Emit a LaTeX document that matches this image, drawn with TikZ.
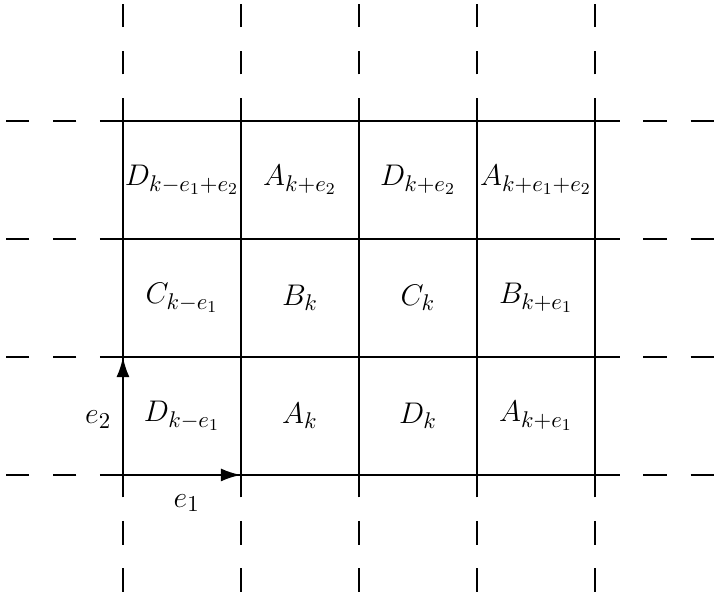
\documentclass[tikz,border=0pt]{standalone}
\usepackage{amsmath,amssymb}
\usetikzlibrary{arrows.meta}
\tikzset{
  gline/.style={line width=0.6pt},
  gdash/.style={line width=0.6pt, dash pattern=on 0.4cm off 0.4cm, dash phase=0.4cm},
  cell/.style={font=\fontsize{15.5}{18}\selectfont, inner sep=1pt},
  basis/.style={-{Latex[length=3.4mm,width=2.2mm]}, line width=1.1pt},
  blab/.style={font=\fontsize{15.5}{18}\selectfont, inner sep=1pt},
}
\begin{document}
\begin{tikzpicture}[x=2cm,y=2cm]
  \useasboundingbox (-1.042,-1.051) rectangle (5.034,4.025);
  % lattice lines
  \foreach \x in {0,...,4} {
    \draw[gline] (\x,-0.19) -- (\x,3.195);
    \draw[gdash] (\x,-0.19) -- (\x,-1.0);
    \draw[gdash] (\x,3.195) -- (\x,4.01);
  }
  \foreach \y in {0,...,3} {
    \draw[gline] (-0.195,\y) -- (4.21,\y);
    \draw[gdash] (-0.195,\y) -- (-1.02,\y);
    \draw[gdash] (4.21,\y) -- (5.03,\y);
  }
  % cell labels
  \node[cell] (d0) at (0.5,0.5) {$D_{k-e_1}$};
  \node[cell] (a0) at (1.5,0.5) {$A_k$};
  \node[cell] (d1) at (2.5,0.5) {$D_k$};
  \node[cell] (a1) at (3.5,0.5) {$A_{k+e_1}$};
  \node[cell] (c0) at (0.5,1.5) {$C_{k-e_1}$};
  \node[cell] (b0) at (1.5,1.5) {$B_k$};
  \node[cell] (c1) at (2.5,1.5) {$C_k$};
  \node[cell] (b1) at (3.5,1.5) {$B_{k+e_1}$};
  \node[cell] (d2) at (0.5,2.5) {$D_{k-e_1+e_2}$};
  \node[cell] (a2) at (1.5,2.5) {$A_{k+e_2}$};
  \node[cell] (d3) at (2.5,2.5) {$D_{k+e_2}$};
  \node[cell] (a3) at (3.5,2.5) {$A_{k+e_1+e_2}$};
  % basis vectors
  \coordinate (o) at (0,0);
  \coordinate (u1) at (1,0);
  \coordinate (u2) at (0,1);
  \draw[basis] (o) -- (u1);
  \draw[basis] (o) -- (u2);
  \node[blab] (e1) at (0.54,-0.24) {$e_1$};
  \node[blab] (e2) at (-0.21,0.47) {$e_2$};
\end{tikzpicture}
\end{document}
